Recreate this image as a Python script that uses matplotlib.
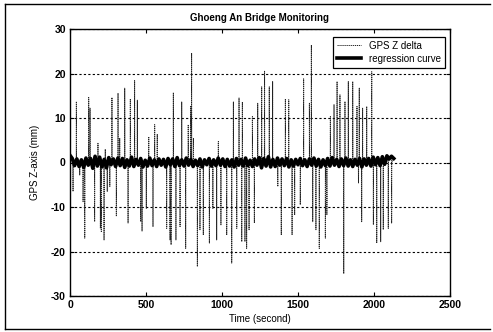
import numpy as np
import matplotlib
matplotlib.use("Agg")
import matplotlib.pyplot as plt
from matplotlib.lines import Line2D

plt.rcParams['font.family'] = ['Liberation Sans', 'DejaVu Sans']
plt.rcParams['axes.unicode_minus'] = False

title = "Ghoeng An Bridge Monitoring"
xlabel = "Time (second)"
ylabel = "GPS Z-axis (mm)"
legend_labels = ["GPS Z delta", "regression curve"]
xticks = [0, 500, 1000, 1500, 2000, 2500]
yticks = [-30, -20, -10, 0, 10, 20, 30]

# regression curve samples (every 15 s)
regression_step = 15
regression_vals = [
    1.6, 0.9, -0.7, 0.8, -0.9, 0.6, -1.1, 1.0, -0.6, 0.9,
    -1.3, 1.4, -0.8, 1.2, -1.0, 0.7, -1.2, 1.1, -0.5, 0.8,
    -0.9, 1.0, -0.7, 0.9, -1.1, 0.6, -0.8, 1.2, -0.9, 0.7,
    -0.6, 0.9, -1.0, 0.5, -0.8, 1.0, -0.7, 0.6, -0.9, 0.8,
    -0.6, 0.7, -1.0, 0.9, -0.5, 0.8, -0.9, 1.1, -0.7, 0.6,
    -0.8, 1.0, -0.6, 0.7, -0.9, 0.5, -0.7, 0.8, -1.0, 0.6,
    -0.5, 0.9, -0.8, 0.6, -0.7, 1.0, -0.6, 0.8, -0.9, 0.7,
    -0.8, 0.6, -1.0, 0.9, -0.6, 0.7, -0.8, 1.0, -0.7, 0.5,
    -0.9, 0.8, -0.6, 1.1, -1.2, 0.9, -0.8, 1.3, -1.0, 0.7,
    -0.9, 1.0, -0.6, 0.8, -0.7, 0.9, -1.0, 0.6, -0.8, 0.7,
    -0.5, 0.9, -0.7, 0.6, -0.9, 0.8, -0.6, 1.0, -0.8, 0.7,
    -1.0, 0.6, -0.7, 0.9, -0.8, 1.1, -0.6, 0.7, -0.9, 0.8,
    -0.7, 1.0, -0.8, 0.6, -0.9, 0.7, -0.6, 0.9, -1.0, 0.8,
    -0.6, 0.9, -0.8, 1.2, -0.5, 1.1, -0.7, 1.3, -0.4, 1.5,
    0.8, 1.4, 0.9,
]

# GPS Z delta spikes (time in s, value in mm)
spike_up_t = [42, 123, 132, 184, 232, 276, 316, 327, 360, 397, 425, 443, 518, 557,
              574, 680, 735, 778, 794, 800, 812, 976, 1075, 1112, 1134, 1200, 1235,
              1261, 1280, 1311, 1333, 1417, 1439, 1537, 1575, 1588, 1713, 1737,
              1757, 1776, 1809, 1831, 1860, 1888, 1903, 1925, 1952, 1985]
spike_up_z = [13.7, 14.6, 12.2, 4.3, 3.0, 14.6, 15.6, 5.5, 16.7, 14.3, 18.4, 14.0, 5.8, 8.5,
              6.4, 15.7, 13.6, 8.5, 12.6, 24.6, 5.5, 4.7, 13.6, 14.5, 13.6, 10.3, 13.3,
              17.0, 20.5, 17.0, 18.2, 14.3, 14.1, 18.8, 13.3, 26.4, 10.3, 13.0,
              18.2, 15.2, 13.7, 18.2, 18.2, 12.6, 16.7, 12.2, 12.6, 20.4]
spike_down_t = [20, 64, 86, 97, 162, 200, 206, 224, 245, 262, 305, 382, 465, 474, 502,
                546, 636, 658, 665, 697, 724, 761, 838, 855, 877, 917, 940, 965, 993,
                1031, 1064, 1097, 1130, 1151, 1162, 1178, 1213, 1367, 1390, 1461,
                1478, 1515, 1597, 1618, 1640, 1680, 1690, 1801, 1898, 1919, 1996,
                2018, 2044, 2061, 2094, 2116]
spike_down_z = [-6.5, -2.8, -8.8, -17.0, -13.3, -14.8, -15.5, -17.4, -6.5, -5.4, -12.1, -13.6,
                -13.3, -15.4, -10.3, -14.4, -14.8, -17.4, -18.5, -17.4, -14.4, -19.3, -23.4,
                -15.1, -16.3, -18.1, -10.3, -17.4, -14.0, -16.3, -22.6, -14.8, -17.8, -17.8,
                -19.3, -15.1, -13.6, -5.4, -16.3, -16.3, -11.8, -9.5, -13.3, -15.1, -19.3,
                -17.0, -11.8, -25.0, -4.6, -13.3, -14.0, -18.1, -17.8, -15.1, -14.8, -13.6]

reg_t = np.arange(len(regression_vals)) * regression_step
reg_z = np.array(regression_vals)

# each spike is a single sample that leaves and returns to the zero line
sp_t = np.concatenate([spike_up_t, spike_down_t]).astype(float)
sp_z = np.concatenate([spike_up_z, spike_down_z])
foot_before = sp_t - 1.0
foot_after = sp_t + 1.0
all_t = np.concatenate([reg_t, foot_before, sp_t, foot_after])
all_z = np.concatenate([reg_z, np.zeros_like(sp_z), sp_z, np.zeros_like(sp_z)])
order = np.argsort(all_t, kind="stable")
delta_t = all_t[order]
delta_z = all_z[order]

fig = plt.figure(figsize=(4.93, 3.32), dpi=100)
ax = fig.add_axes([70/493, 1-296/332, 380/493, 267/332])

ax.plot(delta_t, delta_z, color='#222222', lw=0.7, ls=(0, (1.2, 0.8)),
        label=legend_labels[0])
ax.plot(reg_t, reg_z, color='black', lw=2.6, label=legend_labels[1])

ax.set_xlim(0, 2500)
ax.set_ylim(-30, 30)
ax.set_xticks(xticks)
ax.set_yticks(yticks)
ax.tick_params(direction='in', length=3, width=0.8, top=True, right=True,
               labelsize=7.5, pad=3)
for lab in ax.get_xticklabels() + ax.get_yticklabels():
    lab.set_fontweight('bold')
ax.yaxis.grid(True, color='black', ls=(0, (2, 2)), lw=0.8)
for s in ax.spines.values():
    s.set_linewidth(1.0)

ax.set_title(title, fontsize=7, fontweight='bold', pad=6)
ax.set_xlabel(xlabel, fontsize=7, labelpad=3)
ax.set_ylabel(ylabel, fontsize=7, labelpad=8)

leg = ax.legend(loc='upper right', bbox_to_anchor=(375/380, 259/267),
                borderaxespad=0, fancybox=False, framealpha=1, edgecolor='black',
                fontsize=7, handlelength=2.5, borderpad=0.4, labelspacing=0.3)
leg.get_frame().set_linewidth(0.9)

# outer frame of the scanned figure
fig.add_artist(Line2D([5/493, 5/493], [3/332, 1-4/332], color='black', lw=1.0))
fig.add_artist(Line2D([5/493, 490/493], [1-4/332, 1-4/332], color='black', lw=1.0))
fig.add_artist(Line2D([5/493, 490/493], [3/332, 3/332], color='black', lw=1.0))

fig.savefig("out.png", dpi=100)
